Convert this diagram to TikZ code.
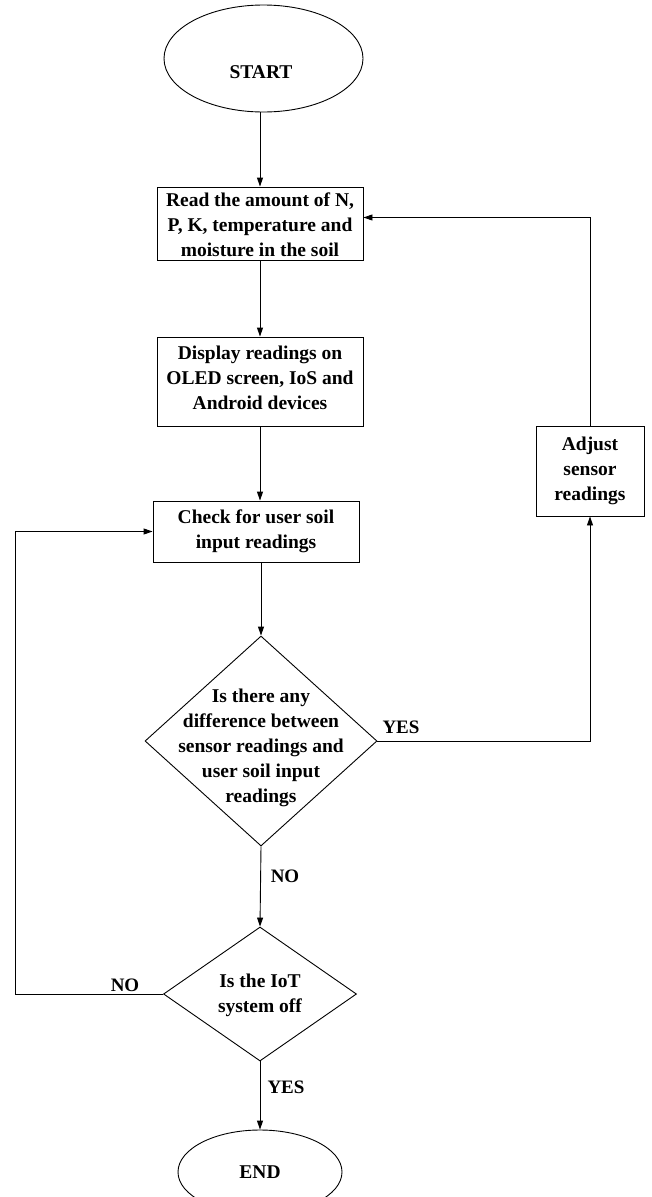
\documentclass[tikz,border=0pt]{standalone}
\usepackage{fontspec}
\setmainfont{Liberation Serif}
\usetikzlibrary{shapes.geometric,arrows.meta}
\tikzset{
  txt/.style={font=\fontsize{19.5}{25}\selectfont\bfseries, align=center, inner sep=0pt},
  procbox/.style={draw, line width=0.9pt, rectangle, inner sep=0pt},
  oval/.style={draw, line width=0.9pt, ellipse, inner sep=0pt},
  decision/.style={draw, line width=0.9pt, diamond, inner sep=0pt},
  flow/.style={draw, line width=0.9pt, -{Triangle[length=9pt,width=6pt]}},
  lbl/.style={font=\fontsize{19}{22}\selectfont\bfseries, inner sep=0pt}
}
\begin{document}
\begin{tikzpicture}[x=1pt,y=-1pt]
\clip (0,0) rectangle (651,1197);
\fill[white] (0,0) rectangle (651,1197);
% nodes
\node[oval, minimum width=199pt, minimum height=107pt] (start) at (263.5,58.5) {};
\node[txt] (starttext) at (261,72) {START};
\node[procbox, minimum width=206pt, minimum height=73pt] (box1) at (260,223.5) {};
\node[txt] (box1text) at (260,225) {Read the amount of N,\\P, K, temperature and\\moisture in the soil};
\node[procbox, minimum width=206pt, minimum height=89pt] (box2) at (260,381.5) {};
\node[txt] (box2text) at (260,378) {Display readings on\\OLED screen, IoS and\\Android devices};
\node[procbox, minimum width=206pt, minimum height=61pt] (box3) at (256,531.5) {};
\node[txt] (box3text) at (256,531.5) {Check for user soil\\input readings};
\node[procbox, minimum width=108pt, minimum height=90pt] (adjust) at (590,471) {};
\node[txt] (adjtext) at (590,471) {Adjust\\sensor\\readings};
\node[decision, minimum width=232pt, minimum height=210pt, aspect=1.1] (d1) at (261,741) {};
\node[txt] (d1text) at (261,748) {Is there any\\difference between\\sensor readings and\\user soil input\\readings};
\node[decision, minimum width=193pt, minimum height=134pt, aspect=1.44] (d2) at (260,994) {};
\node[txt] (d2text) at (260,995) {Is the IoT\\system off};
\node[oval, minimum width=164pt, minimum height=84pt] (end) at (260,1172) {};
\node[txt] (endtext) at (260,1172) {END};
% labels
\node[lbl] (yes1) at (401,727) {YES};
\node[lbl] (no1) at (285,876) {NO};
\node[lbl] (no2) at (125,985) {NO};
\node[lbl] (yes2) at (286,1087) {YES};
\coordinate (loopx) at (15,0);
% connectors
\draw[flow] (box1.north |- start.south) -- (box1.north);
\draw[flow] (box1.south) -- (box2.north);
\draw[flow] (box2.south) -- (box2.south |- box3.north);
\draw[flow] (box3.south -| d1.north) -- (d1.north);
\draw[flow] (d1.east) -| (adjust.south);
\draw[flow] (adjust.north) |- ([yshift=6pt]box1.east);
\draw[flow] (d1.south) -- (d2.north);
\draw[flow] (d2.south) -- (end.north);
\draw[flow] (d2.west) -- (d2.west -| loopx) |- (box3.west);
\end{tikzpicture}
\end{document}
